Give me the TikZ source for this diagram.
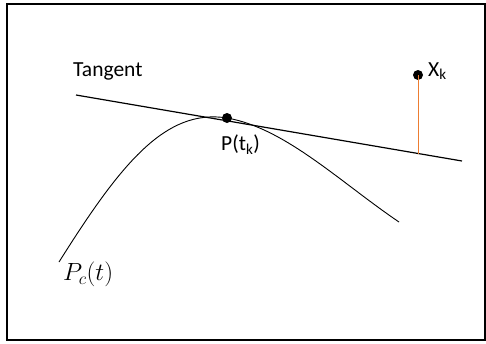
\documentclass[tikz,border=0pt]{standalone}
\usepackage{fontspec}
\setmainfont{Carlito}
\usepackage{tikz}
\usetikzlibrary{positioning,calc}
\definecolor{footcol}{RGB}{237,125,49}
\tikzset{
  dot/.style={circle, fill=black, inner sep=0pt, minimum size=10pt},
  lbl/.style={font=\fontsize{21.5}{25}\selectfont, inner sep=0pt},
  curve/.style={line width=0.9pt},
  tline/.style={line width=1.2pt},
}
\begin{document}
\begin{tikzpicture}[x=1pt, y=-1pt]
  \useasboundingbox (0,0) rectangle (486,343);
  % ramka
  \draw[line width=2.4pt] (7,4) rectangle (485,340);

  % styczna
  \coordinate (t1) at (76,95);
  \coordinate (t2) at (462,161);
  \draw[tline] (t1) -- (t2);
  \node[lbl, anchor=south west] (tang) at (73,80) {Tangent};

  % krzywa
  \coordinate (c0) at (59,262);
  \coordinate (c1) at (399,222);
  \node[dot] (p) at (227,118) {};
  \draw[curve] (c0) .. controls (120,165) and (165,108) .. (p.center)
    .. controls (285,128) and (340,182) .. (c1);
  \node[lbl, anchor=north west] (plbl) at (221,135) {P(t\textsubscript{k})};
  \node[lbl, font=\fontsize{24}{28}\selectfont, anchor=north west] (pc) at (63,262) {$P_c(t)$};

  % punkt X_k
  \node[dot] (x) at (418,75) {};
  \coordinate (foot) at (418,153.5);
  \draw[footcol, line width=1pt] (x.center) -- (foot);
  \node[lbl, anchor=west] (xlbl) at (428,71) {X\textsubscript{k}};
\end{tikzpicture}
\end{document}
